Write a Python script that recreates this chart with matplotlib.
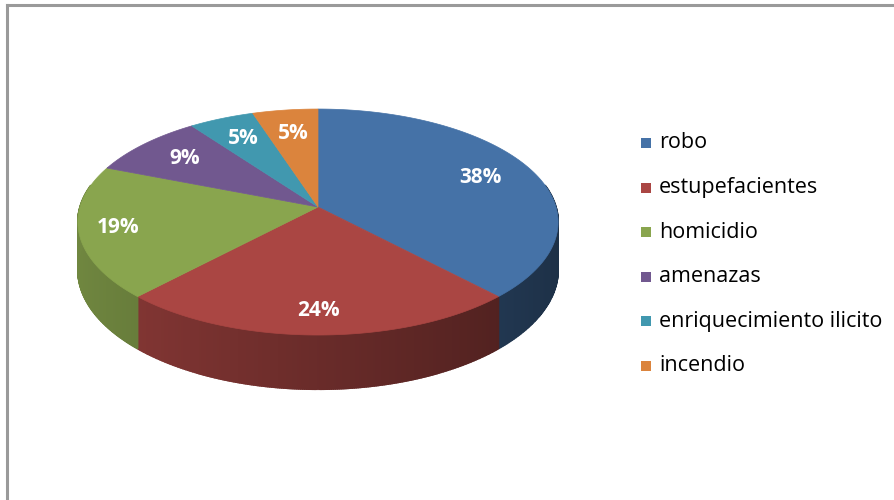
import numpy as np
import matplotlib.pyplot as plt
from matplotlib.patches import Polygon, Rectangle
from matplotlib.lines import Line2D

# data
categories = ['robo', 'estupefacientes', 'homicidio', 'amenazas',
              'enriquecimiento ilicito', 'incendio']
values = [38, 24, 19, 9, 5, 5]
labels = ['38%', '24%', '19%', '9%', '5%', '5%']
colors = ['#4572A7', '#AA4643', '#89A54E', '#71588F', '#4198AF', '#DB843D']

# geometry of the tilted pie (pixel space)
cx, cy = 318, 207
A, B = 238, 111       # half width / half depth of the top face
H = 47                # thickness
k = 0.133             # perspective strength
label_r = [0.76, 0.83, 0.84, 0.75, 0.75, 0.73]


def proj(u, v, z=0.0):
    # u: right, v: towards viewer, z: down
    d = 1 - k * v
    return cx + A * u / d, cy + (B * v + H * z) / d


def shade(c, f):
    rgb = np.array(plt.matplotlib.colors.to_rgb(c))
    return tuple(rgb * f)


fig = plt.figure(figsize=(8.95, 5.0), dpi=100)
ax = fig.add_axes([0, 0, 1, 1])
ax.set_xlim(0, 895)
ax.set_ylim(500, 0)
ax.axis('off')

# frame
ax.add_line(Line2D([7.5, 7.5], [4.5, 500], color='#9a9a9a', lw=2.2))
ax.add_line(Line2D([7.5, 895], [4.5, 4.5], color='#9a9a9a', lw=2.2))

total = sum(values)
start = 90.0
spans = []
for val in values:
    end = start - 360.0 * val / total
    spans.append((start, end))
    start = end

# side walls (front part only)
for (a0, a1), col in zip(spans, colors):
    ts = np.linspace(np.radians(a0), np.radians(a1), 200)
    for t0, t1 in zip(ts[:-1], ts[1:]):
        tm = 0.5 * (t0 + t1)
        if -np.sin(tm) < -0.2:
            continue
        f = 0.62 - 0.2 * np.cos(tm)
        p = [proj(np.cos(t0), -np.sin(t0)), proj(np.cos(t1), -np.sin(t1)),
             proj(np.cos(t1), -np.sin(t1), 1), proj(np.cos(t0), -np.sin(t0), 1)]
        ax.add_patch(Polygon(p, closed=True, facecolor=shade(col, f),
                             edgecolor=shade(col, f), lw=1.2))

# top faces
for (a0, a1), col in zip(spans, colors):
    ts = np.radians(np.linspace(a0, a1, 120))
    pts = [proj(0, 0)] + [proj(np.cos(t), -np.sin(t)) for t in ts]
    ax.add_patch(Polygon(pts, closed=True, facecolor=col, edgecolor=col, lw=0.5))

# percentage labels
for (a0, a1), lab, r in zip(spans, labels, label_r):
    tm = np.radians(0.5 * (a0 + a1))
    x, y = proj(r * np.cos(tm), -r * np.sin(tm))
    ax.text(x, y, lab, color='white', fontsize=15, fontweight='bold',
            family='Open Sans', ha='center', va='center')

# legend
for i, (name, col) in enumerate(zip(categories, colors)):
    y = 143 + 44.5 * i
    ax.add_patch(Rectangle((641, y - 5), 10, 10, facecolor=col, edgecolor='none'))
    ax.text(659, y, name, fontsize=15.5, family='Open Sans', color='#000000',
            ha='left', va='center')

fig.savefig('out.png', dpi=100, facecolor='white')
